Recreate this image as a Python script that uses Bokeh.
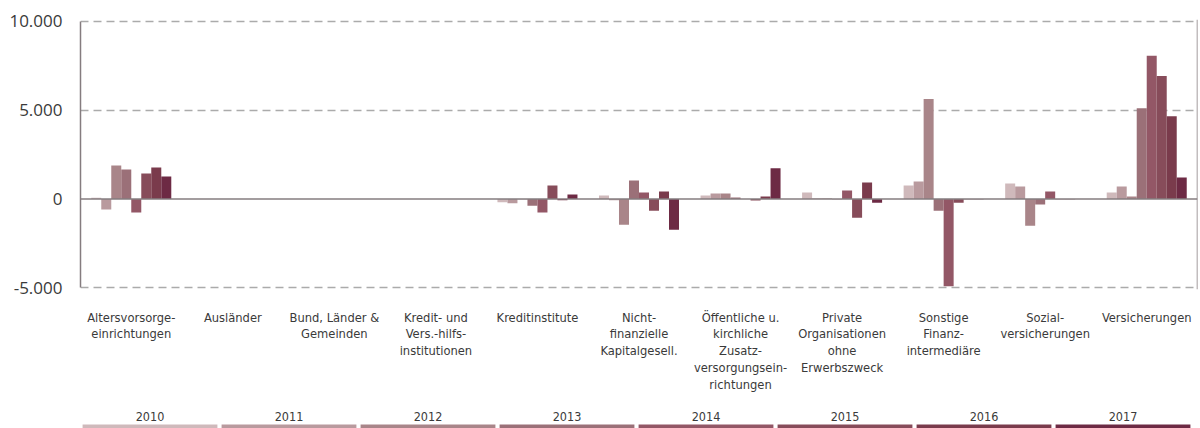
from bokeh.plotting import figure
from bokeh.models import Range1d, FixedTicker, Span, ColumnDataSource
from bokeh.transform import dodge
from bokeh.layouts import column
from bokeh.embed import file_html
from bokeh.resources import INLINE
from bokeh.core.properties import value

categories = [
    "Altersvorsorge-\neinrichtungen",
    "Ausländer",
    "Bund, Länder &\nGemeinden",
    "Kredit- und\nVers.-hilfs-\ninstitutionen",
    "Kreditinstitute",
    "Nicht-\nfinanzielle\nKapitalgesell.",
    "Öffentliche u.\nkirchliche\nZusatz-\nversorgungsein-\nrichtungen",
    "Private\nOrganisationen\nohne\nErwerbszweck",
    "Sonstige\nFinanz-\nintermediäre",
    "Sozial-\nversicherungen",
    "Versicherungen",
]
years = ["2010", "2011", "2012", "2013", "2014", "2015", "2016", "2017"]

v2010 = [70, 0, 0, 0, -190, 190, 190, 360, 755, 865, 360]
v2011 = [-600, 0, 0, 0, -245, -75, 300, 20, 980, 700, 700]
v2012 = [1880, 0, 0, 0, -20, -1450, 300, 20, 5620, -1510, 130]
v2013 = [1650, 0, 0, 0, -380, 1040, 75, -15, -660, -320, 5110]
v2014 = [-770, 0, 0, 0, -770, 360, -10, 470, -4910, 415, 8060]
v2015 = [1430, 0, 0, 0, 750, -660, -95, -1060, -210, -15, 6920]
v2016 = [1770, 0, 0, 0, -80, 415, 130, 925, -20, -15, 4660]
v2017 = [1260, 0, 0, 0, 245, -1740, 1720, -210, -20, -10, 1210]
series = [v2010, v2011, v2012, v2013, v2014, v2015, v2016, v2017]

y_ticks = [-5000, 0, 5000, 10000]
y_tick_labels = ["-5.000", "0", "5.000", "10.000"]

colors = ["#cfb9bb", "#b99a9e", "#a98589", "#9b7078", "#935766", "#874c5a", "#7a3b4c", "#6d2a44"]

TEXT = "#3a3a3a"
AXIS = "#857c7f"
LABEL_FONT = "DejaVu Sans Condensed"

p = figure(frame_width=1117, frame_height=270,
           x_range=Range1d(-0.5, len(categories) - 0.5),
           y_range=Range1d(-5100, 10100),
           output_backend="svg", toolbar_location=None,
           min_border_left=78, min_border_right=5,
           min_border_top=19, min_border_bottom=119)
p.outline_line_color = None

idx = list(range(len(categories)))
data = {"x": idx}
for y, s in zip(years, series):
    data["y" + y] = s
src = ColumnDataSource(data)

bw = 0.0985
n = len(years)
for j, y in enumerate(years):
    off = (j - (n - 1) / 2) * bw
    p.vbar(x=dodge("x", off, range=p.x_range), top="y" + y, bottom=0, width=bw,
           source=src, fill_color=colors[j], line_color=None)

# grid
p.xgrid.visible = False
p.ygrid.ticker = FixedTicker(ticks=[-5000, 5000, 10000])
p.ygrid.grid_line_color = "#ababab"
p.ygrid.grid_line_dash = "8 5"
p.ygrid.grid_line_width = 1.5

p.add_layout(Span(location=0, dimension="width", line_color=AXIS, line_width=1.5))
p.add_layout(Span(location=len(categories) - 0.5, dimension="height", line_color=AXIS, line_width=1.5))

# y axis
p.yaxis.ticker = FixedTicker(ticks=y_ticks)
p.yaxis.bounds = (-5000, 10000)
p.yaxis.major_label_overrides = {t: l for t, l in zip(y_ticks, y_tick_labels)}
p.yaxis.major_tick_line_color = None
p.yaxis.minor_tick_line_color = None
p.yaxis.major_tick_out = 0
p.yaxis.major_tick_in = 0
p.yaxis.minor_tick_out = 0
p.yaxis.axis_line_color = AXIS
p.yaxis.axis_line_width = 1.5
p.yaxis.major_label_text_font = "Open Sans"
p.yaxis.major_label_text_font_size = "17px"
p.yaxis.major_label_text_color = TEXT
p.yaxis.major_label_standoff = 18

# x axis
p.xaxis.ticker = FixedTicker(ticks=idx)
p.xaxis.major_label_overrides = {i: c for i, c in zip(idx, categories)}
p.xaxis.major_tick_line_color = None
p.xaxis.minor_tick_line_color = None
p.xaxis.major_tick_out = 0
p.xaxis.major_tick_in = 0
p.xaxis.minor_tick_out = 0
p.xaxis.axis_line_color = None
p.xaxis.major_label_text_font = LABEL_FONT
p.xaxis.major_label_text_font_size = "12.8px"
p.xaxis.major_label_text_color = TEXT
p.xaxis.major_label_standoff = 20
p.xaxis.major_label_text_line_height = 1.12

# legend strip
lg = figure(frame_width=1112, frame_height=20, x_range=Range1d(0, len(years)), y_range=Range1d(0, 20),
            output_backend="svg", toolbar_location=None,
            min_border_left=80, min_border_right=8, min_border_top=0, min_border_bottom=0,
            x_axis_location=None, y_axis_location=None)
lg.outline_line_color = None
lg.grid.visible = False
lsrc = ColumnDataSource({"i": list(range(len(years))), "year": years, "color": colors})
lg.vbar(x=dodge("i", 0.5, range=lg.x_range), bottom=0, top=4, width=0.97,
        fill_color="color", line_color=None, source=lsrc)
lg.text(x=dodge("i", 0.5, range=lg.x_range), y=12, text="year", source=lsrc,
        text_align="center", text_baseline="middle", text_font=value(LABEL_FONT),
        text_font_size="12.5px", text_color=TEXT)

layout = column(p, lg)
open("out.html", "w").write(file_html(layout, INLINE))
